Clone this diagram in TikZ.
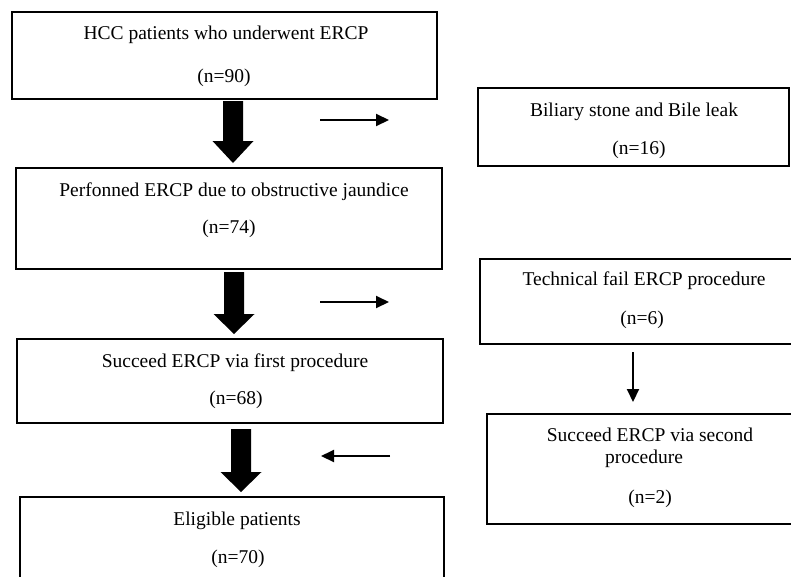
\documentclass[tikz,border=0pt]{standalone}
\usepackage{fontspec}
\setmainfont{Liberation Serif}
\usetikzlibrary{arrows.meta}
\tikzset{
  box/.style={draw=black, line width=2pt, rectangle, inner sep=0pt, outer sep=0pt, anchor=north west},
  txt/.style={anchor=base, inner sep=0pt, font=\fontsize{19.5}{22}\selectfont},
  thin/.style={line width=2pt, -{Triangle[length=13pt,width=12pt]}},
}
% fat arrow: center x, shaft top y, head base y, tip y
\newcommand\fatarrow[4]{%
  \fill[black] ({#1-10},#2) -- ({#1+10},#2) -- ({#1+10},#3) -- ({#1+20.5},#3)
    -- (#1,#4) -- ({#1-20.5},#3) -- ({#1-10},#3) -- cycle;}
\begin{document}
\begin{tikzpicture}[x=1pt,y=-1pt]
\useasboundingbox (0,0) rectangle (791,576);
\clip (0,0) rectangle (791,576);
\fill[white] (0,0) rectangle (791,576);

% left column boxes
\node[box, minimum width=425pt, minimum height=86.5pt] (b1) at (12,12) {};
\node[box, minimum width=426pt, minimum height=101pt] (b2) at (16,167.5) {};
\node[box, minimum width=426pt, minimum height=83.5pt] (b3) at (17,339) {};
\node[box, minimum width=424pt, minimum height=110pt] (b4) at (20,497) {};

% right column boxes
\node[box, minimum width=311pt, minimum height=78pt] (r1) at (478,88) {};
\node[box, minimum width=340pt, minimum height=84.5pt] (r2) at (480,259) {};
\node[box, minimum width=333pt, minimum height=109.5pt] (r3) at (487,414) {};

% texts
\node[txt] (t1a) at (226,39) {HCC patients who underwent ERCP};
\node[txt] (t1b) at (224,82) {(n=90)};
\node[txt] (t2a) at (234,196) {Perfonned ERCP due to obstructive jaundice};
\node[txt] (t2b) at (229,233) {(n=74)};
\node[txt] (t3a) at (235,367) {Succeed ERCP via first procedure};
\node[txt] (t3b) at (236,404) {(n=68)};
\node[txt] (t4a) at (237,525) {Eligible patients};
\node[txt] (t4b) at (238,563) {(n=70)};

\node[txt] (u1a) at (634,116) {Biliary stone and Bile leak};
\node[txt] (u1b) at (639,154) {(n=16)};
\node[txt] (u2a) at (644,285) {Technical fail ERCP procedure};
\node[txt] (u2b) at (642,324) {(n=6)};
\node[txt] (u3a) at (650,441) {Succeed ERCP via second};
\node[txt] (u3b) at (644,463) {procedure};
\node[txt] (u3c) at (650,503) {(n=2)};

% fat arrows
\fatarrow{233}{101}{141}{163}
\fatarrow{234}{272}{314}{334}
\fatarrow{241}{429}{472}{492}

% thin arrows
\coordinate (a1s) at (320,120); \coordinate (a1e) at (389,120);
\coordinate (a2s) at (320,302); \coordinate (a2e) at (389,302);
\coordinate (a3s) at (390,456); \coordinate (a3e) at (321,456);
\coordinate (a4s) at (633,352); \coordinate (a4e) at (633,402);
\draw[thin] (a1s) -- (a1e);
\draw[thin] (a2s) -- (a2e);
\draw[thin] (a3s) -- (a3e);
\draw[thin] (a4s) -- (a4e);
\end{tikzpicture}
\end{document}
